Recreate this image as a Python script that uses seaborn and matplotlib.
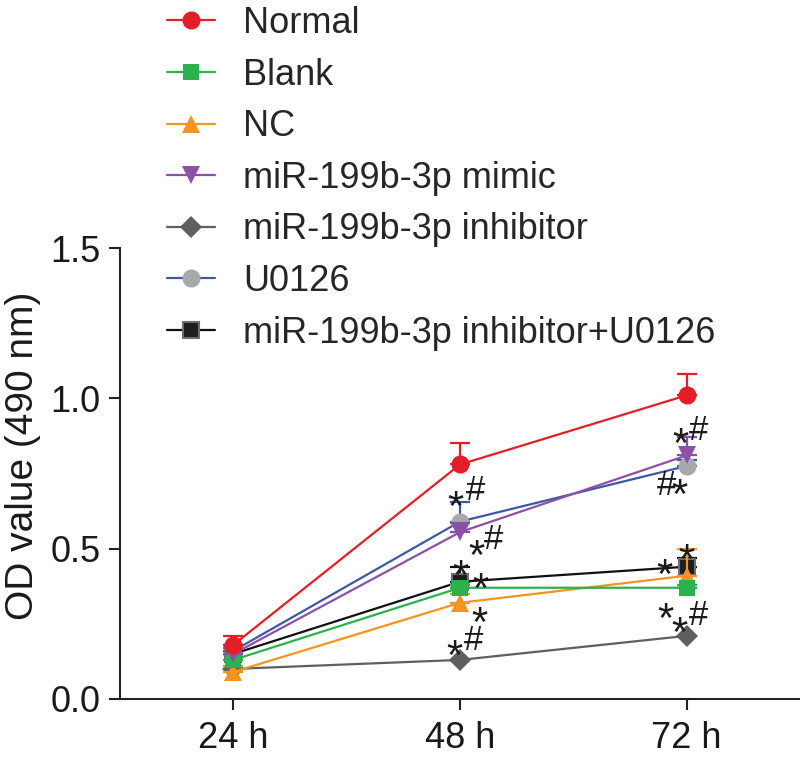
import matplotlib
matplotlib.use("Agg")
import matplotlib.pyplot as plt
import seaborn as sns
import pandas as pd
import numpy as np

sns.set_theme(style="ticks")
plt.rcParams['font.family'] = ['Liberation Sans', 'DejaVu Sans']

# ---------------- data ----------------
times = ["24 h", "48 h", "72 h"]
groups = ["Normal", "Blank", "NC", "miR-199b-3p mimic", "miR-199b-3p inhibitor",
          "U0126", "miR-199b-3p inhibitor+U0126"]
normal = [0.18, 0.78, 1.01]
blank = [0.13, 0.37, 0.37]
nc = [0.09, 0.32, 0.41]
mimic = [0.15, 0.555, 0.81]
inhibitor = [0.10, 0.13, 0.21]
u0126 = [0.16, 0.59, 0.775]
combo = [0.15, 0.39, 0.44]

normal_sd = [0.03, 0.07, 0.07]
blank_sd = [0.02, 0.01, 0.01]
nc_sd = [0.02, 0.03, 0.09]
mimic_sd = [0.02, 0.03, 0.06]
inhibitor_sd = [0.0, 0.0, 0.0]
u0126_sd = [0.02, 0.065, 0.02]
combo_sd = [0.03, 0.05, 0.03]

means = [normal, blank, nc, mimic, inhibitor, u0126, combo]
sds = [normal_sd, blank_sd, nc_sd, mimic_sd, inhibitor_sd, u0126_sd, combo_sd]

# significance labels: (group index, time index, text)
sig_labels = [
    (5, 1, "*#"), (3, 1, "*#"), (6, 1, "*"), (1, 1, "*"), (2, 1, "*"), (4, 1, "*#"),
    (3, 2, "*#"), (5, 2, "#*"), (6, 2, "*"), (6, 2, "*"), (1, 2, "*"), (4, 2, "*#"),
]
# ink-centre offsets in pixels (dx right, dy down) for each symbol of each label
sig_offsets = [
    [(-5, -25), (15, -34)], [(16, 13), (33, 5)], [(0, -17)], [(20, -10)], [(19, 9)],
    [(-6, -15), (13, -22)],
    [(-6, -22), (12, -28)], [(-20, 17), (-7, 18)], [(-22, -2)], [(0, -17)], [(-21, 20)],
    [(-7, -14), (12, -23)],
]

# ---------------- styles ----------------
line_colors = ["#E41E26", "#2BB24C", "#F7941D", "#8B51A8", "#5F5F5F", "#3D58A7", "#111111"]
face_colors = ["#E41E26", "#2BB24C", "#F7941D", "#8B51A8", "#5F5F5F", "#A7A9AC", "#1E1E1E"]
edge_colors = ["#E41E26", "#2BB24C", "#F7941D", "#8B51A8", "#5F5F5F", "#A7A9AC", "#6D6E71"]
markers = ["o", "s", "^", "v", "D", "o", "s"]
msizes = [13, 12, 13, 13, 11, 13, 11]
zorders = [9, 7, 6, 8, 3, 4, 5]
FS = 26

fig = plt.figure(figsize=(8.0, 7.61), dpi=100)
ax = fig.add_axes([0.15, 62 / 761, 680 / 800, 451 / 761])

handles = []
for i, g in enumerate(groups):
    df = pd.DataFrame({"time": times, "od": means[i]})
    sns.lineplot(data=df, x="time", y="od", ax=ax, color=line_colors[i],
                 marker=markers[i], markersize=msizes[i], markerfacecolor=face_colors[i],
                 markeredgecolor=edge_colors[i], markeredgewidth=1.5 if i == 6 else 0,
                 linewidth=1.6, zorder=zorders[i], legend=False)
    sd = np.asarray(sds[i])
    keep = sd > 0
    if keep.any():
        ax.errorbar(np.asarray(times)[keep], np.asarray(means[i])[keep],
                    yerr=[np.zeros(keep.sum()), sd[keep]], fmt="none",
                    ecolor=line_colors[i], elinewidth=1.6, capsize=7, capthick=1.6,
                    zorder=zorders[i] - 0.5)
    h = plt.Line2D([], [], color=line_colors[i], marker=markers[i], markersize=msizes[i],
                   markerfacecolor=face_colors[i], markeredgecolor=edge_colors[i],
                   markeredgewidth=1.5 if i == 6 else 0, linewidth=1.6, label=g)
    handles.append(h)

# significance marks
for (gi, ti, txt), offs in zip(sig_labels, sig_offsets):
    for ch, (dx, dy) in zip(txt, offs):
        if ch == "*":
            fs = 30
            base = 0.57 * fs * 100 / 72
        else:
            fs = 25
            base = 0.35 * fs * 100 / 72
        ax.annotate(ch, xy=(ti, means[gi][ti]), xycoords="data",
                    xytext=(dx, -dy - base), textcoords="offset pixels",
                    ha="center", va="baseline", fontsize=fs, color="#1a1a1a",
                    zorder=20)

ax.set_xlim(-0.5, 2.5)
ax.set_ylim(0, 1.5)
ax.set_yticks([0.0, 0.5, 1.0, 1.5])
ax.set_yticklabels(["0.0", "0.5", "1.0", "1.5"])
ax.set_xlabel("")
ax.set_ylabel("OD value (490 nm)", fontsize=28, color="#1a1a1a", va="center")
ax.yaxis.set_label_coords((23 - 120) / 680, (699 - 456) / 451)
ax.tick_params(axis="both", labelsize=FS, length=8, width=1.5, colors="#222222",
               labelcolor="#1a1a1a")
ax.tick_params(axis="x", pad=8)
ax.tick_params(axis="y", pad=6)
for s in ["top", "right"]:
    ax.spines[s].set_visible(False)
for s in ["left", "bottom"]:
    ax.spines[s].set_linewidth(1.5)
    ax.spines[s].set_color("#222222")
ax.set_facecolor("white")

fig.legend(handles=handles, loc="upper left", bbox_to_anchor=(167 / 800, 1 - 6 / 761),
           frameon=False, fontsize=FS, handlelength=1.33, handletextpad=0.78,
           labelspacing=0.46, borderpad=0, borderaxespad=0)

fig.savefig("out.png", dpi=100, facecolor="white")
